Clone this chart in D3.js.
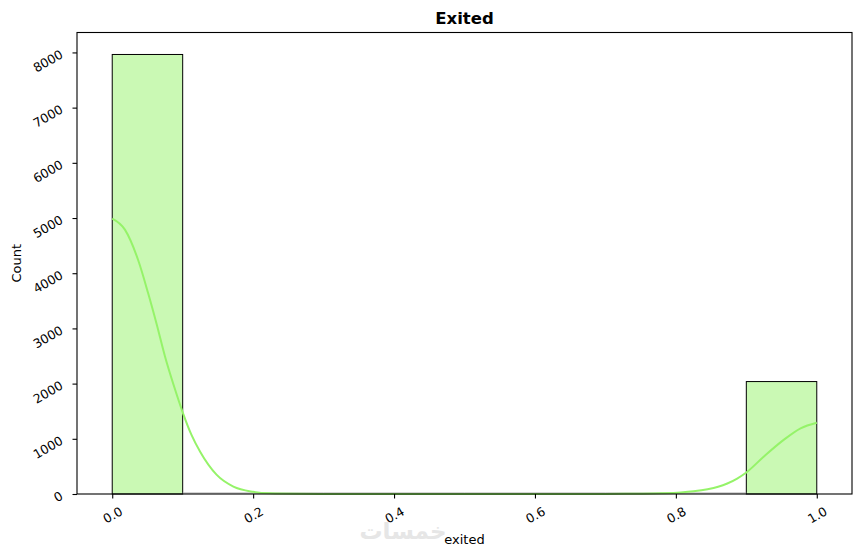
<!DOCTYPE html>
<html>
<head>
<meta charset="utf-8">
<script src="https://cdn.jsdelivr.net/npm/d3@7"></script>
<style>
  body { margin: 0; background: #fff; }
  text { font-family: "DejaVu Sans", sans-serif; fill: #000; }
</style>
</head>
<body>
<svg id="chart" width="861" height="556"></svg>
<script>
// histogram bins (edges) and counts
const binEdges = [0, 0.1, 0.2, 0.3, 0.4, 0.5, 0.6, 0.7, 0.8, 0.9, 1.0];
const binCounts = [7963, 0, 0, 0, 0, 0, 0, 0, 0, 2037];

// kde curve (scaled to counts)
const kdeX = [0, 0.018, 0.037, 0.051, 0.063, 0.075, 0.0875, 0.1, 0.1125, 0.125, 0.148, 0.172, 0.2, 0.224, 0.26, 0.3, 0.4, 0.5, 0.6, 0.7, 0.75, 0.78, 0.807, 0.825, 0.845, 0.86, 0.873, 0.887, 0.9, 0.925, 0.953, 0.977, 1.0];
const kdeY = [4990, 4790, 4230, 3636, 3080, 2487, 1960, 1480, 1070, 760, 350, 134, 40, 12, 4, 2, 1, 1, 1, 2, 6, 13, 28, 48, 85, 130, 190, 280, 390, 680, 980, 1190, 1292];

const xTicks = [0.0, 0.2, 0.4, 0.6, 0.8, 1.0];
const yTicks = [0, 1000, 2000, 3000, 4000, 5000, 6000, 7000, 8000];

const m = {top: 32.5, right: 9, bottom: 62, left: 77};
const W = 861, H = 556;
const w = W - m.left - m.right;
const h = H - m.top - m.bottom;

const fillColor = '#caf9b4';
const lineColor = '#95f369';

const svg = d3.select('#chart');

const x = d3.scaleLinear()
    .domain([-0.05, 1.05])
    .range([m.left, m.left + w]);

const y = d3.scaleLinear()
    .domain([0, 7963 * 1.05])
    .range([m.top + h, m.top]);

// watermark
svg.append('text')
    .attr('x', 403)
    .attr('y', 539)
    .attr('text-anchor', 'middle')
    .style('font-size', '23px')
    .style('font-weight', 'bold')
    .style('fill', '#e6e6e6')
    .text('خمسات');

// bars
const bins = binCounts.map((c, i) => ({x0: binEdges[i], x1: binEdges[i + 1], count: c}));

svg.append('g')
    .selectAll('rect')
    .data(bins.filter(d => d.count > 0))
    .enter()
    .append('rect')
    .attr('x', d => x(d.x0))
    .attr('y', d => y(d.count))
    .attr('width', d => x(d.x1) - x(d.x0))
    .attr('height', d => y(0) - y(d.count))
    .attr('fill', fillColor)
    .attr('stroke', '#000')
    .attr('stroke-width', 1);

// empty bins show as a faint line on the baseline
svg.append('g')
    .selectAll('line')
    .data(bins.filter(d => d.count === 0))
    .enter()
    .append('line')
    .attr('x1', d => x(d.x0))
    .attr('x2', d => x(d.x1))
    .attr('y1', y(0) - 1)
    .attr('y2', y(0) - 1)
    .attr('stroke', '#aaa')
    .attr('stroke-width', 1);

// kde line
const line = d3.line()
    .x(d => x(d[0]))
    .y(d => y(d[1]))
    .curve(d3.curveMonotoneX);

svg.append('path')
    .datum(kdeX.map((v, i) => [v, kdeY[i]]))
    .attr('d', line)
    .attr('fill', 'none')
    .attr('stroke', lineColor)
    .attr('stroke-width', 2);

// frame
svg.append('rect')
    .attr('x', m.left)
    .attr('y', m.top)
    .attr('width', w)
    .attr('height', h)
    .attr('fill', 'none')
    .attr('stroke', '#000')
    .attr('stroke-width', 1.1);

// x axis
const xAxis = d3.axisBottom(x)
    .tickValues(xTicks)
    .tickSize(4.5)
    .tickFormat(d3.format('.1f'));

const gx = svg.append('g')
    .attr('transform', 'translate(0,' + (m.top + h) + ')')
    .call(xAxis);
gx.select('.domain').remove();
gx.selectAll('line').attr('stroke', '#000').attr('stroke-width', 1.1);
gx.selectAll('text')
    .attr('y', null)
    .attr('dy', null)
    .attr('transform', 'translate(0,21) rotate(-30)')
    .attr('dominant-baseline', 'central')
    .style('font-size', '12.5px')
    .style('font-family', '"DejaVu Sans", sans-serif');

// y axis
const yAxis = d3.axisLeft(y)
    .tickValues(yTicks)
    .tickSize(4.5)
    .tickFormat(d3.format('d'));

const gy = svg.append('g')
    .attr('transform', 'translate(' + m.left + ',0)')
    .call(yAxis);
gy.select('.domain').remove();
gy.selectAll('line').attr('stroke', '#000').attr('stroke-width', 1.1);
gy.selectAll('text')
    .attr('x', null)
    .attr('dy', null)
    .attr('text-anchor', 'end')
    .attr('transform', 'translate(-13,4) rotate(-30)')
    .style('font-size', '12.5px')
    .style('font-family', '"DejaVu Sans", sans-serif');

// title and axis labels
svg.append('text')
    .attr('x', m.left + w / 2)
    .attr('y', 24)
    .attr('text-anchor', 'middle')
    .style('font-size', '16.5px')
    .style('font-weight', 'bold')
    .text('Exited');

svg.append('text')
    .attr('x', m.left + w / 2)
    .attr('y', 544)
    .attr('text-anchor', 'middle')
    .style('font-size', '13px')
    .text('exited');

svg.append('text')
    .attr('transform', 'translate(21,' + (m.top + h / 2) + ') rotate(-90)')
    .attr('text-anchor', 'middle')
    .style('font-size', '13px')
    .text('Count');
</script>
</body>
</html>
